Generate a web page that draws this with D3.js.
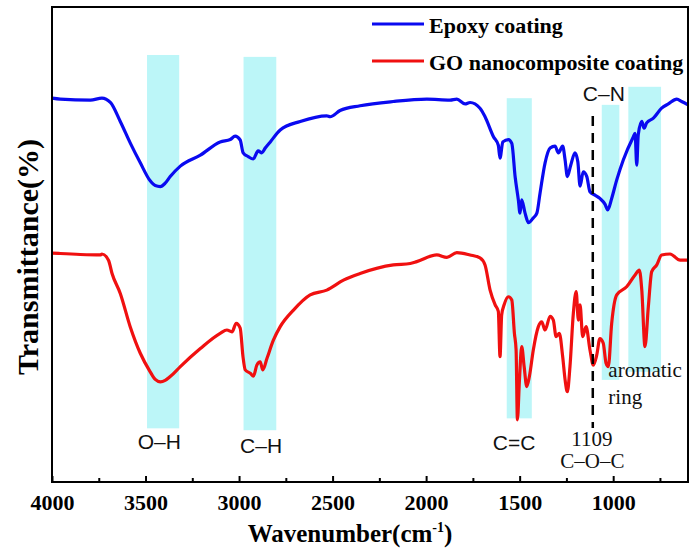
<!DOCTYPE html>
<html>
<head>
<meta charset="utf-8">
<script src="https://cdn.jsdelivr.net/npm/d3@7"></script>
<style>
  body { margin: 0; background: #fff; }
  svg { display: block; }
</style>
</head>
<body>
<svg id="chart" width="689" height="554"></svg>
<script>
// epoxy coating spectrum (wavenumber, transmittance)
var epoxyWn = [4000, 3956, 3795, 3733, 3688, 3635, 3582, 3528, 3475, 3448, 3421, 3395, 3368, 3314, 3207, 3101, 3047, 3021, 2994, 2978, 2951, 2924,
    2898, 2878, 2860, 2833, 2780, 2673, 2531, 2513, 2460, 2353, 2176, 1996, 1872, 1836, 1792, 1765, 1712, 1685, 1640, 1614,
    1605, 1590, 1560, 1542, 1524, 1507, 1498, 1489, 1471, 1453, 1427, 1408, 1391, 1364, 1337, 1311, 1293, 1270, 1257, 1245,
    1227, 1204, 1189, 1177, 1160, 1141, 1124, 1097, 1071, 1044, 1029, 1008, 981, 946, 892, 883, 874, 866, 847, 835,
    821, 785, 741, 705, 660, 634, 600];
var epoxyT = [80.8, 80.6, 80.4, 80.8, 79.9, 75.9, 71.4, 67.2, 63.4, 62.4, 62.2, 62.9, 64.3, 66.5, 68.8, 71.6, 72.1, 72.8, 72.0, 69.3, 68.5, 68.0,
    69.7, 69.3, 70.3, 71.6, 74.1, 75.9, 77.1, 76.9, 78.2, 79.2, 80.1, 80.6, 80.4, 80.6, 79.6, 79.9, 78.7, 76.9, 72.7, 70.9,
    68.2, 71.6, 72.1, 71.3, 64.2, 59.4, 56.6, 59.4, 56.6, 54.6, 55.6, 56.6, 60.8, 67.2, 70.3, 70.7, 69.3, 70.7, 67.8, 64.3,
    66.7, 69.3, 67.4, 62.3, 65.3, 64.3, 61.1, 60.4, 59.7, 58.5, 57.3, 59.7, 63.6, 67.8, 72.7, 73.4, 66.7, 73.1, 75.9, 74.5,
    75.6, 76.6, 78.7, 79.6, 80.6, 80.1, 79.4];

// GO nanocomposite coating spectrum
var goWn = [4000, 3956, 3849, 3742, 3733, 3698, 3679, 3635, 3582, 3528, 3475, 3448, 3421, 3395, 3368, 3314, 3207, 3101, 3065, 3038, 3015, 2994,
    2979, 2967, 2940, 2923, 2905, 2887, 2873, 2851, 2816, 2780, 2709, 2620, 2531, 2442, 2353, 2175, 2085, 2050, 1943, 1889,
    1836, 1765, 1712, 1685, 1658, 1631, 1614, 1605, 1596, 1583, 1560, 1542, 1528, 1519, 1512, 1501, 1489, 1476, 1462, 1448,
    1427, 1400, 1382, 1364, 1337, 1320, 1305, 1288, 1270, 1257, 1245, 1231, 1213, 1198, 1186, 1177, 1163, 1145, 1124, 1106,
    1088, 1071, 1053, 1038, 1026, 1008, 981, 928, 883, 860, 847, 830, 812, 794, 767, 741, 696, 642, 600];
var goT = [48.2, 48.1, 47.9, 47.8, 48.0, 46.7, 43.9, 39.7, 32.7, 27.1, 23.2, 21.6, 21.1, 21.4, 22.2, 24.3, 28.1, 31.3, 32.0, 31.6, 33.4, 32.4,
    26.4, 23.6, 22.9, 22.3, 24.6, 25.3, 23.6, 26.0, 29.9, 32.7, 36.2, 39.4, 40.4, 42.5, 43.9, 45.7, 46.0, 46.4, 47.8, 47.3,
    48.3, 47.8, 47.2, 45.7, 40.4, 37.3, 35.9, 26.4, 35.2, 37.3, 39.0, 38.3, 31.3, 27.8, 13.1, 21.5, 28.5, 24.3, 20.1, 22.2,
    27.8, 32.7, 33.7, 32.0, 34.9, 34.1, 30.6, 31.3, 26.4, 21.5, 19.0, 24.3, 35.5, 40.1, 34.1, 37.3, 30.6, 32.7, 27.8, 24.6,
    26.7, 30.2, 29.2, 25.0, 24.3, 33.4, 39.4, 41.1, 43.6, 44.6, 40.4, 28.5, 36.9, 44.3, 45.7, 47.8, 48.0, 46.7, 46.7];

// highlighted absorption bands
var bandFrom = [3492, 2976, 1569, 1061, 919];
var bandTo = [3320, 2801, 1435, 967, 744];
var bandTop = [89.9, 89.5, 80.8, 79.4, 83.2];
var bandBottom = [11.3, 10.9, 13.4, 21.5, 23.2];

var xTicks = [4000, 3500, 3000, 2500, 2000, 1500, 1000];
var xMinor = [3750, 3250, 2750, 2250, 1750, 1250, 750];
var legendNames = ["Epoxy coating", "GO nanocomposite coating"];
var seriesColors = ["#0a0af0", "#f01010"];

var svg = d3.select("#chart"),
    margin = { top: 7, right: 1, bottom: 72, left: 52 },
    width = 689 - margin.left - margin.right,
    height = 554 - margin.top - margin.bottom;

var x = d3.scaleLinear().domain([4000, 600]).range([margin.left, margin.left + width]);
var y = d3.scaleLinear().domain([0, 100]).range([margin.top + height, margin.top]);

// bands
svg.selectAll(".band")
    .data(bandFrom)
    .enter()
    .append("rect")
    .attr("class", "band")
    .attr("x", function (d, i) { return x(bandFrom[i]); })
    .attr("width", function (d, i) { return x(bandTo[i]) - x(bandFrom[i]); })
    .attr("y", function (d, i) { return y(bandTop[i]); })
    .attr("height", function (d, i) { return y(bandBottom[i]) - y(bandTop[i]); })
    .style("fill", "#bcf6f8");

var line = d3.line()
    .curve(d3.curveMonotoneX)
    .x(function (d) { return x(d[0]); })
    .y(function (d) { return y(d[1]); });

var series = [d3.zip(epoxyWn, epoxyT), d3.zip(goWn, goT)];

svg.selectAll(".spec")
    .data(series)
    .enter()
    .append("path")
    .attr("class", "spec")
    .attr("d", line)
    .style("fill", "none")
    .style("stroke", function (d, i) { return seriesColors[i]; })
    .style("stroke-width", 3.2)
    .style("stroke-linejoin", "round");

// dashed marker at 1109
svg.append("line")
    .attr("x1", x(1109)).attr("x2", x(1109))
    .attr("y1", 116).attr("y2", 428)
    .style("stroke", "#000")
    .style("stroke-width", 2.5)
    .style("stroke-dasharray", "10,7");

// annotation labels
var sans = "'Liberation Sans', Arial, sans-serif",
    serif = "'Liberation Serif', 'Times New Roman', serif";
var notes = [
    { t: "O\u2013H", wn: 3426, y: 449, f: sans, a: "middle" },
    { t: "C\u2013H", wn: 2882, y: 453, f: sans, a: "middle" },
    { t: "C=C", wn: 1530, y: 450, f: sans, a: "middle" },
    { t: "C\u2013N", wn: 1050, y: 101, f: sans, a: "middle" },
    { t: "1109", wn: 1114, y: 446, f: serif, a: "middle" },
    { t: "C\u2013O\u2013C", wn: 1111, y: 468, f: serif, a: "middle" },
    { t: "aromatic", wn: 1026, y: 377, f: serif, a: "start" },
    { t: "ring", wn: 1026, y: 404, f: serif, a: "start" }
];
svg.selectAll(".note")
    .data(notes)
    .enter()
    .append("text")
    .attr("class", "note")
    .attr("x", function (d) { return x(d.wn); })
    .attr("y", function (d) { return d.y; })
    .attr("text-anchor", function (d) { return d.a; })
    .style("font-family", function (d) { return d.f; })
    .style("font-size", "21px")
    .style("fill", "#111")
    .text(function (d) { return d.t; });

// frame
svg.append("rect")
    .attr("x", margin.left).attr("y", margin.top)
    .attr("width", width).attr("height", height)
    .style("fill", "none")
    .style("stroke", "#000")
    .style("stroke-width", 2);

var xAxis = svg.append("g")
    .attr("transform", "translate(0," + (margin.top + height) + ")")
    .call(d3.axisBottom(x).tickValues(xTicks).tickSize(-6).tickPadding(12).tickFormat(d3.format("d")));
xAxis.select(".domain").remove();
xAxis.selectAll("line").style("stroke-width", 2);
xAxis.selectAll("text")
    .style("font-family", serif)
    .style("font-weight", "bold")
    .style("font-size", "22px")
    .style("fill", "#000");

var xAxisMinor = svg.append("g")
    .attr("transform", "translate(0," + (margin.top + height) + ")")
    .call(d3.axisBottom(x).tickValues(xMinor).tickSize(-4).tickFormat(""));
xAxisMinor.select(".domain").remove();
xAxisMinor.selectAll("line").style("stroke-width", 2);

// axis titles
var xt = svg.append("text")
    .attr("x", 350)
    .attr("y", 542)
    .attr("text-anchor", "middle")
    .style("font-family", serif)
    .style("font-weight", "bold")
    .style("font-size", "25px");
xt.append("tspan").text("Wavenumber(cm");
xt.append("tspan").attr("dy", -10).style("font-size", "14px").text("-1");
xt.append("tspan").attr("dy", 10).text(")");

svg.append("text")
    .attr("transform", "translate(38,257) rotate(-90)")
    .attr("text-anchor", "middle")
    .style("font-family", serif)
    .style("font-weight", "bold")
    .style("font-size", "30px")
    .text("Transmittance(%)");

// legend
var legend = svg.selectAll(".legend")
    .data(legendNames)
    .enter()
    .append("g")
    .attr("class", "legend")
    .attr("transform", function (d, i) { return "translate(0," + (24 + i * 37) + ")"; });
legend.append("line")
    .attr("x1", 372).attr("x2", 424)
    .style("stroke", function (d, i) { return seriesColors[i]; })
    .style("stroke-width", 3);
legend.append("text")
    .attr("x", 429)
    .attr("y", 9)
    .style("font-family", serif)
    .style("font-weight", "bold")
    .style("font-size", "22px")
    .text(function (d) { return d; });
</script>
</body>
</html>
